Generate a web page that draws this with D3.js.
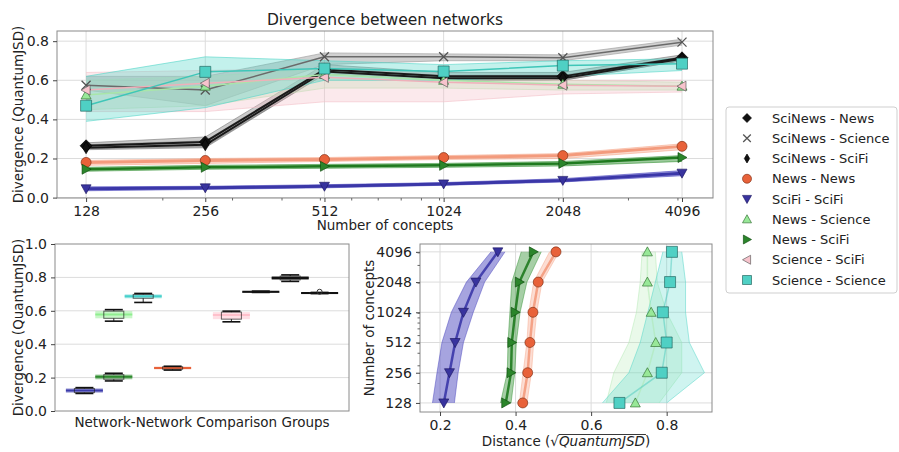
<!DOCTYPE html>
<html>
<head>
<meta charset="utf-8">
<script src="https://cdn.jsdelivr.net/npm/d3@7"></script>
<style>
  body { margin: 0; background: #fff; }
  svg { font-family: "DejaVu Sans", sans-serif; }
</style>
</head>
<body>
<svg id="chart" width="899" height="452"></svg>
<script>
"use strict";

// ---- data ----
const concepts = [128, 256, 512, 1024, 2048, 4096];
const minorConcepts = [200, 300, 400, 500, 600, 700, 800, 900, 1000, 2000, 3000, 4000];

const seriesNames = ["SciNews - News", "SciNews - Science", "SciNews - SciFi", "News - News",
    "SciFi - SciFi", "News - Science", "News - SciFi", "Science - SciFi", "Science - Science"];

// divergence per series (rows follow seriesNames), mean and band edges
const divMean = [
    [0.265, 0.285, 0.655, 0.620, 0.620, 0.715],
    [0.575, 0.550, 0.720, 0.720, 0.715, 0.795],
    [0.255, 0.270, 0.645, 0.610, 0.610, 0.710],
    [0.180, 0.190, 0.195, 0.205, 0.215, 0.262],
    [0.045, 0.050, 0.058, 0.070, 0.088, 0.125],
    [0.525, 0.570, 0.630, 0.600, 0.580, 0.570],
    [0.145, 0.155, 0.160, 0.165, 0.175, 0.205],
    [0.550, 0.585, 0.615, 0.590, 0.575, 0.570],
    [0.470, 0.643, 0.660, 0.645, 0.675, 0.685]
];
const divLo = [
    [0.250, 0.260, 0.630, 0.600, 0.600, 0.700],
    [0.550, 0.470, 0.680, 0.700, 0.700, 0.780],
    [0.245, 0.255, 0.630, 0.600, 0.600, 0.700],
    [0.165, 0.175, 0.185, 0.195, 0.200, 0.245],
    [0.035, 0.042, 0.050, 0.063, 0.080, 0.112],
    [0.450, 0.470, 0.560, 0.560, 0.550, 0.550],
    [0.135, 0.145, 0.150, 0.155, 0.162, 0.185],
    [0.440, 0.440, 0.490, 0.490, 0.530, 0.540],
    [0.390, 0.460, 0.600, 0.600, 0.620, 0.650]
];
const divHi = [
    [0.280, 0.310, 0.680, 0.640, 0.640, 0.730],
    [0.620, 0.620, 0.740, 0.735, 0.730, 0.810],
    [0.270, 0.290, 0.660, 0.625, 0.625, 0.720],
    [0.190, 0.200, 0.205, 0.215, 0.225, 0.275],
    [0.055, 0.058, 0.066, 0.077, 0.097, 0.138],
    [0.600, 0.620, 0.660, 0.620, 0.600, 0.590],
    [0.155, 0.165, 0.170, 0.175, 0.185, 0.215],
    [0.640, 0.650, 0.660, 0.630, 0.600, 0.600],
    [0.620, 0.720, 0.700, 0.680, 0.700, 0.710]
];

// distance (sqrt QuantumJSD) per concept count
const distNames = ["SciFi - SciFi", "News - SciFi", "News - News", "News - Science", "Science - Science"];
const distMean = [
    [0.210, 0.225, 0.240, 0.262, 0.295, 0.353],
    [0.374, 0.388, 0.390, 0.399, 0.410, 0.447],
    [0.419, 0.432, 0.438, 0.446, 0.460, 0.507],
    [0.717, 0.749, 0.771, 0.759, 0.749, 0.749],
    [0.675, 0.787, 0.800, 0.790, 0.809, 0.814]
];
const distLo = [
    [0.180, 0.192, 0.205, 0.230, 0.270, 0.335],
    [0.360, 0.378, 0.380, 0.385, 0.390, 0.415],
    [0.410, 0.420, 0.430, 0.435, 0.448, 0.490],
    [0.640, 0.660, 0.700, 0.720, 0.730, 0.735],
    [0.630, 0.700, 0.730, 0.750, 0.770, 0.790]
];
const distHi = [
    [0.238, 0.248, 0.262, 0.288, 0.318, 0.372],
    [0.388, 0.398, 0.402, 0.412, 0.430, 0.468],
    [0.430, 0.442, 0.448, 0.456, 0.470, 0.515],
    [0.780, 0.840, 0.840, 0.800, 0.775, 0.770],
    [0.800, 0.900, 0.860, 0.850, 0.850, 0.840]
];

// box plot (values at 4096 concepts)
const boxNames = ["SciFi - SciFi", "News - SciFi", "News - Science", "Science - Science", "News - News",
    "Science - SciFi", "SciNews - News", "SciNews - Science", "SciNews - SciFi"];
const boxPos = [1, 2, 2, 3, 4, 6, 7, 8, 9];
const boxLo  = [0.105, 0.180, 0.538, 0.650, 0.245, 0.534, 0.710, 0.776, 0.703];
const boxQ1  = [0.110, 0.190, 0.555, 0.675, 0.250, 0.550, 0.712, 0.785, 0.705];
const boxMed = [0.123, 0.205, 0.578, 0.687, 0.258, 0.575, 0.714, 0.797, 0.707];
const boxQ3  = [0.135, 0.218, 0.598, 0.698, 0.265, 0.592, 0.716, 0.808, 0.709];
const boxHi  = [0.140, 0.226, 0.607, 0.704, 0.268, 0.598, 0.718, 0.815, 0.710];
const boxOutliers = [[], [], [], [], [], [], [], [], [0.714]];

const divTicks = [0, 0.2, 0.4, 0.6, 0.8];
const boxTicks = [0, 0.2, 0.4, 0.6, 0.8, 1.0];
const distTicks = [0.2, 0.4, 0.6, 0.8];

// ---- styles ----
const styles = {
    "SciNews - News":    {marker: "D", fill: "#111", edge: "#000", line: "#1a1a1a", lw: 2, band: "#7a7a7a", bandOp: 0.4, size: 6},
    "SciNews - Science": {marker: "x", fill: "none", edge: "#555", line: "#6a6a6a", lw: 1.5, band: "#9a9a9a", bandOp: 0.45, size: 4.5},
    "SciNews - SciFi":   {marker: "d", fill: "#111", edge: "#000", line: "#1a1a1a", lw: 2, band: "#7a7a7a", bandOp: 0.35, size: 6},
    "News - News":       {marker: "o", fill: "#e8623a", edge: "#7a2a10", line: "#f39b7d", lw: 3, band: "#f7ab90", bandOp: 0.45, size: 5},
    "SciFi - SciFi":     {marker: "v", fill: "#38339e", edge: "#1a1660", line: "#3b37a8", lw: 3, band: "#4d49c0", bandOp: 0.55, size: 5},
    "News - Science":    {marker: "^", fill: "#98e898", edge: "#2a6a2a", line: "#a9e6a9", lw: 1.5, band: "#b3eab3", bandOp: 0.35, size: 5},
    "News - SciFi":      {marker: ">", fill: "#2b852b", edge: "#0d4a0d", line: "#1f7a1f", lw: 2.5, band: "#3a953a", bandOp: 0.5, size: 5},
    "Science - SciFi":   {marker: "<", fill: "#f7c3cc", edge: "#555", line: "#efb0ba", lw: 1.5, band: "#f3c0c8", bandOp: 0.35, size: 5},
    "Science - Science": {marker: "s", fill: "#4fd0c4", edge: "#1d5e58", line: "#3fc6b8", lw: 1.5, band: "#52d6c8", bandOp: 0.35, size: 5.5}
};
const boxColors = ["#3b3bab", "#2e8b2e", "#90ee90", "#48d1cc", "#e8623a", "#ffc0cb", "#111", "#111", "#111"];

function markerPath(type, s) {
    switch (type) {
        case "D": return `M0,${-s}L${s},0L0,${s}L${-s},0Z`;
        case "d": return `M0,${-s}L${s * 0.6},0L0,${s}L${-s * 0.6},0Z`;
        case "o": return `M${s},0A${s},${s} 0 1,1 ${-s},0A${s},${s} 0 1,1 ${s},0Z`;
        case "s": return `M${-s},${-s}H${s}V${s}H${-s}Z`;
        case "v": return `M${-s},${-s * 0.8}H${s}L0,${s}Z`;
        case "^": return `M${-s},${s * 0.8}H${s}L0,${-s}Z`;
        case ">": return `M${-s * 0.8},${-s}V${s}L${s},0Z`;
        case "<": return `M${s * 0.8},${-s}V${s}L${-s},0Z`;
        case "x": return `M${-s},${-s}L${s},${s}M${-s},${s}L${s},${-s}`;
    }
}

const svg = d3.select("#chart");
const FONT = "DejaVu Sans, sans-serif";

function styleAxis(g) {
    g.attr("font-family", FONT).attr("font-size", 14);
    g.select(".domain").remove();
    g.selectAll(".tick line").attr("stroke", "#444");
    g.selectAll(".tick text").attr("fill", "#222");
}
function frame(x0, y0, x1, y1) {
    svg.append("rect").attr("x", x0).attr("y", y0).attr("width", x1 - x0).attr("height", y1 - y0)
        .attr("fill", "none").attr("stroke", "#8a8a8a").attr("stroke-width", 1);
}
function drawMarker(g, type, st, x, y, s, op) {
    const p = g.append("path").attr("d", markerPath(type, s)).attr("transform", `translate(${x},${y})`);
    if (type === "x") p.attr("fill", "none").attr("stroke", st.edge).attr("stroke-width", 1.3);
    else p.attr("fill", st.fill).attr("stroke", st.edge).attr("stroke-width", 0.8).attr("stroke-opacity", 0.8);
    if (op) p.attr("opacity", op);
    return p;
}

// ================= top chart =================
const T = {l: 57, r: 713, t: 31, b: 198};
const xTop = d3.scaleLog().base(2).domain([Math.pow(2, 6.756), Math.pow(2, 12.26)]).range([T.l, T.r]);
const yTop = d3.scaleLinear().domain([-0.002, 0.852]).range([T.b, T.t]);

const gTop = svg.append("g");
// grid
gTop.selectAll(".gx").data(concepts).join("line")
    .attr("x1", d => xTop(d)).attr("x2", d => xTop(d)).attr("y1", T.t).attr("y2", T.b)
    .attr("stroke", "#dcdcdc");
gTop.selectAll(".gy").data(divTicks).join("line")
    .attr("x1", T.l).attr("x2", T.r).attr("y1", d => yTop(d)).attr("y2", d => yTop(d))
    .attr("stroke", "#dcdcdc");

const topIdx = seriesNames.map((n, i) => i);
const areaTop = d3.area().x((d, i) => xTop(concepts[i])).y0(d => yTop(d[0])).y1(d => yTop(d[1]));
const lineTop = d3.line().x((d, i) => xTop(concepts[i])).y(d => yTop(d));

// bands
topIdx.forEach(i => {
    const st = styles[seriesNames[i]];
    const band = divLo[i].map((v, j) => [v, divHi[i][j]]);
    gTop.append("path").attr("d", areaTop(band)).attr("fill", st.band).attr("opacity", st.bandOp);
    [divLo[i], divHi[i]].forEach(edge => {
        gTop.append("path").attr("d", lineTop(edge)).attr("fill", "none")
            .attr("stroke", st.band).attr("stroke-width", 1).attr("opacity", 0.6);
    });
});
// lines
topIdx.forEach(i => {
    const st = styles[seriesNames[i]];
    gTop.append("path").attr("d", lineTop(divMean[i])).attr("fill", "none")
        .attr("stroke", st.line).attr("stroke-width", st.lw).attr("stroke-linejoin", "round");
});
// markers
topIdx.forEach(i => {
    const st = styles[seriesNames[i]];
    divMean[i].forEach((v, j) => drawMarker(gTop, st.marker, st, xTop(concepts[j]), yTop(v), st.size));
});

frame(T.l, T.t, T.r, T.b);
const axTopX = svg.append("g").attr("transform", `translate(0,${T.b})`)
    .call(d3.axisBottom(xTop).tickValues(concepts).tickFormat(d3.format("d")).tickSize(4).tickPadding(4));
styleAxis(axTopX);
svg.append("g").attr("transform", `translate(0,${T.b})`).selectAll("line").data(minorConcepts).join("line")
    .attr("x1", d => xTop(d)).attr("x2", d => xTop(d)).attr("y1", 0).attr("y2", 2.5).attr("stroke", "#666");
const axTopY = svg.append("g").attr("transform", `translate(${T.l},0)`)
    .call(d3.axisLeft(yTop).tickValues(divTicks).tickFormat(d3.format(".1f")).tickSize(4).tickPadding(4));
styleAxis(axTopY);

svg.append("text").attr("x", (T.l + T.r) / 2).attr("y", 25).attr("text-anchor", "middle")
    .attr("font-size", 15.5).attr("fill", "#222").text("Divergence between networks");
svg.append("text").attr("x", (T.l + T.r) / 2).attr("y", 230).attr("text-anchor", "middle")
    .attr("font-size", 13.5).attr("fill", "#222").text("Number of concepts");
svg.append("text").attr("transform", `translate(23,${(T.t + T.b) / 2}) rotate(-90)`).attr("text-anchor", "middle")
    .attr("font-size", 13.5).attr("fill", "#222").text("Divergence (QuantumJSD)");

// legend
const lg = svg.append("g");
lg.append("rect").attr("x", 726).attr("y", 107).attr("width", 171).attr("height", 186).attr("rx", 3)
    .attr("fill", "#fff").attr("stroke", "#cfcfcf");
seriesNames.forEach((n, i) => {
    const y = 118 + i * 20.25;
    const st = styles[n];
    drawMarker(lg, st.marker, st, 747, y, st.marker === "x" ? 3.8 : 4.5);
    lg.append("text").attr("x", 772).attr("y", y).attr("dy", "0.35em").attr("font-size", 13)
        .attr("fill", "#222").text(n);
});

// ================= box plot =================
const B = {l: 55, r: 349, t: 244, b: 411};
const xBox = d3.scaleLinear().domain([0, 10]).range([B.l, B.r]);
const yBox = d3.scaleLinear().domain([0, 1]).range([B.b, B.t]);
const gBox = svg.append("g");
gBox.selectAll("line.grid").data(boxTicks.slice(1, -1)).join("line")
    .attr("x1", B.l).attr("x2", B.r).attr("y1", d => yBox(d)).attr("y2", d => yBox(d)).attr("stroke", "#dcdcdc");

boxNames.forEach((n, i) => {
    const cx = xBox(boxPos[i]);
    const c = boxColors[i];
    const wide = 18.5, narrow = 10, cap = 9;
    gBox.append("rect").attr("x", cx - wide).attr("width", wide * 2)
        .attr("y", yBox(boxQ3[i])).attr("height", Math.max(1.5, yBox(boxQ1[i]) - yBox(boxQ3[i])))
        .attr("fill", c).attr("opacity", 0.5);
    gBox.append("line").attr("x1", cx - wide).attr("x2", cx + wide)
        .attr("y1", yBox(boxMed[i])).attr("y2", yBox(boxMed[i])).attr("stroke", c).attr("stroke-width", 2);
    gBox.append("rect").attr("x", cx - narrow).attr("width", narrow * 2)
        .attr("y", yBox(boxQ3[i])).attr("height", yBox(boxQ1[i]) - yBox(boxQ3[i]))
        .attr("fill", "none").attr("stroke", "#222").attr("stroke-width", 1).attr("opacity", 0.7);
    gBox.append("line").attr("x1", cx).attr("x2", cx).attr("y1", yBox(boxHi[i])).attr("y2", yBox(boxQ3[i]))
        .attr("stroke", "#222");
    gBox.append("line").attr("x1", cx).attr("x2", cx).attr("y1", yBox(boxQ1[i])).attr("y2", yBox(boxLo[i]))
        .attr("stroke", "#222");
    [boxHi[i], boxLo[i]].forEach(v => gBox.append("line").attr("x1", cx - cap).attr("x2", cx + cap)
        .attr("y1", yBox(v)).attr("y2", yBox(v)).attr("stroke", "#111").attr("stroke-width", 1.6));
    boxOutliers[i].forEach(v => gBox.append("circle").attr("cx", cx).attr("cy", yBox(v)).attr("r", 2.5)
        .attr("fill", "none").attr("stroke", "#333"));
});
frame(B.l, B.t, B.r, B.b);
const axBoxY = svg.append("g").attr("transform", `translate(${B.l},0)`)
    .call(d3.axisLeft(yBox).tickValues(boxTicks).tickFormat(d3.format(".1f")).tickSize(4).tickPadding(4));
styleAxis(axBoxY);
svg.append("text").attr("transform", `translate(23,${(B.t + B.b) / 2}) rotate(-90)`).attr("text-anchor", "middle")
    .attr("font-size", 13.5).attr("fill", "#222").text("Divergence (QuantumJSD)");
svg.append("text").attr("x", (B.l + B.r) / 2).attr("y", 427).attr("text-anchor", "middle")
    .attr("font-size", 13.5).attr("fill", "#222").text("Network-Network Comparison Groups");

// ================= distance plot =================
const D = {l: 420, r: 712, t: 244, b: 412};
const xDist = d3.scaleLinear().domain([0.147, 0.92]).range([D.l, D.r]);
const yConc = d3.scaleLog().base(2).domain([Math.pow(2, 6.70), Math.pow(2, 12.26)]).range([D.b, D.t]);
const gDist = svg.append("g");
gDist.selectAll(".gx").data(distTicks).join("line")
    .attr("x1", d => xDist(d)).attr("x2", d => xDist(d)).attr("y1", D.t).attr("y2", D.b).attr("stroke", "#dcdcdc");
gDist.selectAll(".gy").data(concepts).join("line")
    .attr("x1", D.l).attr("x2", D.r).attr("y1", d => yConc(d)).attr("y2", d => yConc(d)).attr("stroke", "#dcdcdc");

const areaDist = d3.area().y((d, i) => yConc(concepts[i])).x0(d => xDist(d[0])).x1(d => xDist(d[1]));
const lineDist = d3.line().y((d, i) => yConc(concepts[i])).x(d => xDist(d));
const distBandOp = [0.5, 0.45, 0.4, 0.28, 0.28];
const distLineOp = [0.9, 0.9, 0.9, 0.45, 0.45];
distNames.forEach((n, i) => {
    const st = styles[n];
    const band = distLo[i].map((v, j) => [v, distHi[i][j]]);
    gDist.append("path").attr("d", areaDist(band)).attr("fill", st.band).attr("opacity", distBandOp[i]);
    [distLo[i], distHi[i]].forEach(edge => gDist.append("path").attr("d", lineDist(edge)).attr("fill", "none")
        .attr("stroke", st.band).attr("stroke-width", 1).attr("opacity", 0.5));
});
distNames.forEach((n, i) => {
    const st = styles[n];
    gDist.append("path").attr("d", lineDist(distMean[i])).attr("fill", "none")
        .attr("stroke", st.line).attr("stroke-width", Math.min(st.lw, 2.5)).attr("opacity", distLineOp[i]);
});
distNames.forEach((n, i) => {
    const st = styles[n];
    distMean[i].forEach((v, j) => drawMarker(gDist, st.marker, st, xDist(v), yConc(concepts[j]), st.size));
});
frame(D.l, D.t, D.r, D.b);
const axDistX = svg.append("g").attr("transform", `translate(0,${D.b})`)
    .call(d3.axisBottom(xDist).tickValues(distTicks).tickFormat(d3.format(".1f")).tickSize(4).tickPadding(4));
styleAxis(axDistX);
const axDistY = svg.append("g").attr("transform", `translate(${D.l},0)`)
    .call(d3.axisLeft(yConc).tickValues(concepts).tickFormat(d3.format("d")).tickSize(4).tickPadding(4));
styleAxis(axDistY);
svg.append("g").attr("transform", `translate(${D.l},0)`).selectAll("line").data(minorConcepts).join("line")
    .attr("y1", d => yConc(d)).attr("y2", d => yConc(d)).attr("x1", 0).attr("x2", -2.5).attr("stroke", "#666");

svg.append("text").attr("transform", `translate(374,${(D.t + D.b) / 2}) rotate(-90)`).attr("text-anchor", "middle")
    .attr("font-size", 13.5).attr("fill", "#222").text("Number of concepts");

const xl = svg.append("text").attr("x", (D.l + D.r) / 2).attr("y", 446).attr("text-anchor", "middle")
    .attr("font-size", 13.5).attr("fill", "#222");
xl.append("tspan").text("Distance (");
xl.append("tspan").text("\u221A");
xl.append("tspan").attr("font-style", "italic").text("QuantumJSD");
xl.append("tspan").text(")");
const xn = xl.node();
const sq = xn.getExtentOfChar(10);
const endQ = xn.getEndPositionOfChar(20);
svg.append("line").attr("x1", sq.x + sq.width - 0.5).attr("x2", endQ.x + 1)
    .attr("y1", sq.y + 1.5).attr("y2", sq.y + 1.5).attr("stroke", "#222").attr("stroke-width", 0.9);
</script>
</body>
</html>
